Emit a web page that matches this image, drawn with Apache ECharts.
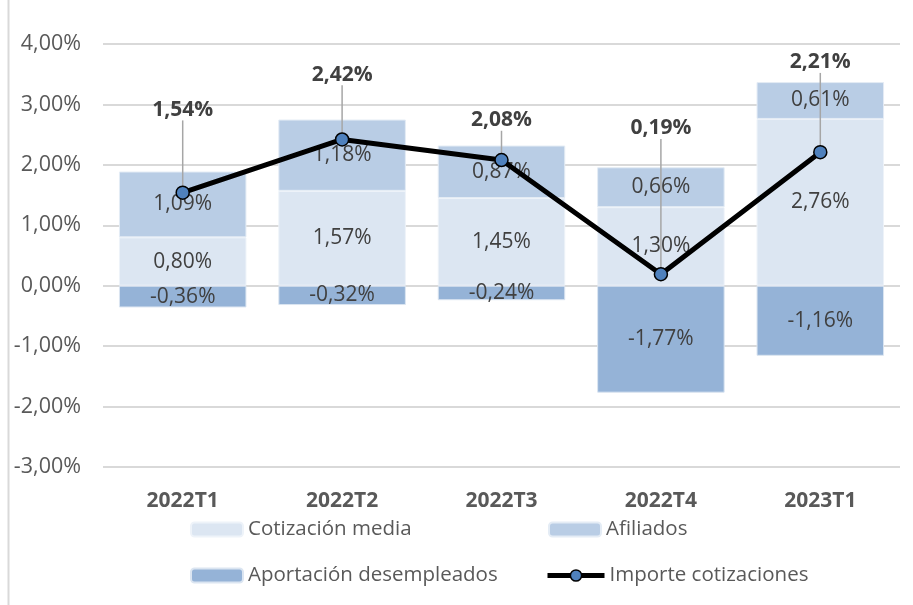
<!DOCTYPE html>
<html>
<head>
<meta charset="utf-8">
<script src="https://cdn.jsdelivr.net/npm/echarts@6/dist/echarts.min.js"></script>
<style>
  html, body { margin: 0; padding: 0; background: #fff; }
  #chart { width: 913px; height: 605px; }
</style>
</head>
<body>
<div id="chart"></div>
<script>
// datos
var categorias = ['2022T1', '2022T2', '2022T3', '2022T4', '2023T1'];
var cotizacionMedia = [0.80, 1.57, 1.45, 1.30, 2.76];
var afiliados = [1.09, 1.18, 0.87, 0.66, 0.61];
var desempleados = [-0.36, -0.32, -0.24, -1.77, -1.16];
var importe = [1.54, 2.42, 2.08, 0.19, 2.21];

// desplazamiento vertical de las etiquetas de la línea (px)
var desplEtiqueta = [-85, -67, -42, -148, -92];

var fuente = '"Open Sans", sans-serif';

function pct(v) {
    return v.toFixed(2).replace('.', ',') + '%';
}

var barLabel = {
    show: true,
    position: 'inside',
    color: '#404040',
    fontSize: 21,
    fontFamily: fuente,
    formatter: function (p) { return pct(p.value); }
};

var legendText = { fontSize: 20.5, color: '#595959', fontFamily: fuente };

var option = {
    animation: false,
    textStyle: { fontFamily: fuente },
    graphic: [{
        type: 'line',
        shape: { x1: 8.5, y1: 0, x2: 8.5, y2: 605 },
        style: { stroke: '#d9d9d9', lineWidth: 2 }
    }],
    grid: { left: 103, right: 13, top: 44, bottom: 138 },
    legend: [
        { left: 185, top: 514, itemWidth: 52, itemHeight: 14, data: ['Cotización media'], textStyle: legendText },
        { left: 543, top: 514, itemWidth: 52, itemHeight: 14, data: ['Afiliados'], textStyle: legendText },
        { left: 185, top: 560, itemWidth: 52, itemHeight: 14, data: ['Aportación desempleados'], textStyle: legendText },
        { left: 540, top: 560, itemWidth: 57, itemHeight: 14, data: ['Importe cotizaciones'], textStyle: legendText,
          lineStyle: { width: 5, color: '#000' },
          itemStyle: { color: '#4f81bd', borderColor: '#000', borderWidth: 1.5 } }
    ],
    xAxis: {
        type: 'category',
        data: categorias,
        axisLine: { show: false },
        axisTick: { show: false },
        axisLabel: {
            fontSize: 21, fontWeight: 'bold', color: '#595959', fontFamily: fuente,
            margin: 24
        }
    },
    yAxis: {
        type: 'value',
        min: -3, max: 4, interval: 1,
        axisLine: { show: false },
        axisTick: { show: false },
        splitLine: { lineStyle: { color: '#d9d9d9', width: 2 } },
        axisLabel: {
            fontSize: 21.5, color: '#595959', fontFamily: fuente, margin: 22,
            formatter: function (v) { return pct(v); }
        }
    },
    series: [
        {
            name: 'Cotización media',
            type: 'bar', stack: 'total', barWidth: '80%',
            itemStyle: { color: '#dce6f2', borderColor: '#eef3f9', borderWidth: 1 },
            label: barLabel,
            data: cotizacionMedia
        },
        {
            name: 'Afiliados',
            type: 'bar', stack: 'total',
            itemStyle: { color: '#b9cde5', borderColor: '#e4ecf5', borderWidth: 1 },
            label: barLabel,
            data: afiliados
        },
        {
            name: 'Aportación desempleados',
            type: 'bar', stack: 'total',
            itemStyle: { color: '#95b3d7', borderColor: '#dbe5f1', borderWidth: 1 },
            label: barLabel,
            data: desempleados
        },
        {
            name: 'Importe cotizaciones',
            type: 'line',
            symbol: 'circle', symbolSize: 13,
            z: 5,
            lineStyle: { color: '#000', width: 5 },
            itemStyle: { color: '#4f81bd', borderColor: '#000', borderWidth: 1.5 },
            label: {
                show: true, position: 'top', distance: 0,
                fontSize: 21, fontWeight: 'bold', color: '#404040', fontFamily: fuente,
                formatter: function (p) { return pct(p.value); }
            },
            labelLine: { show: true, lineStyle: { color: '#a6a6a6', width: 1.5 } },
            labelLayout: function (p) {
                return { dy: desplEtiqueta[p.dataIndex] + 20 };
            },
            data: importe
        }
    ]
};

var chart = echarts.init(document.getElementById('chart'));
chart.setOption(option);
</script>
</body>
</html>
